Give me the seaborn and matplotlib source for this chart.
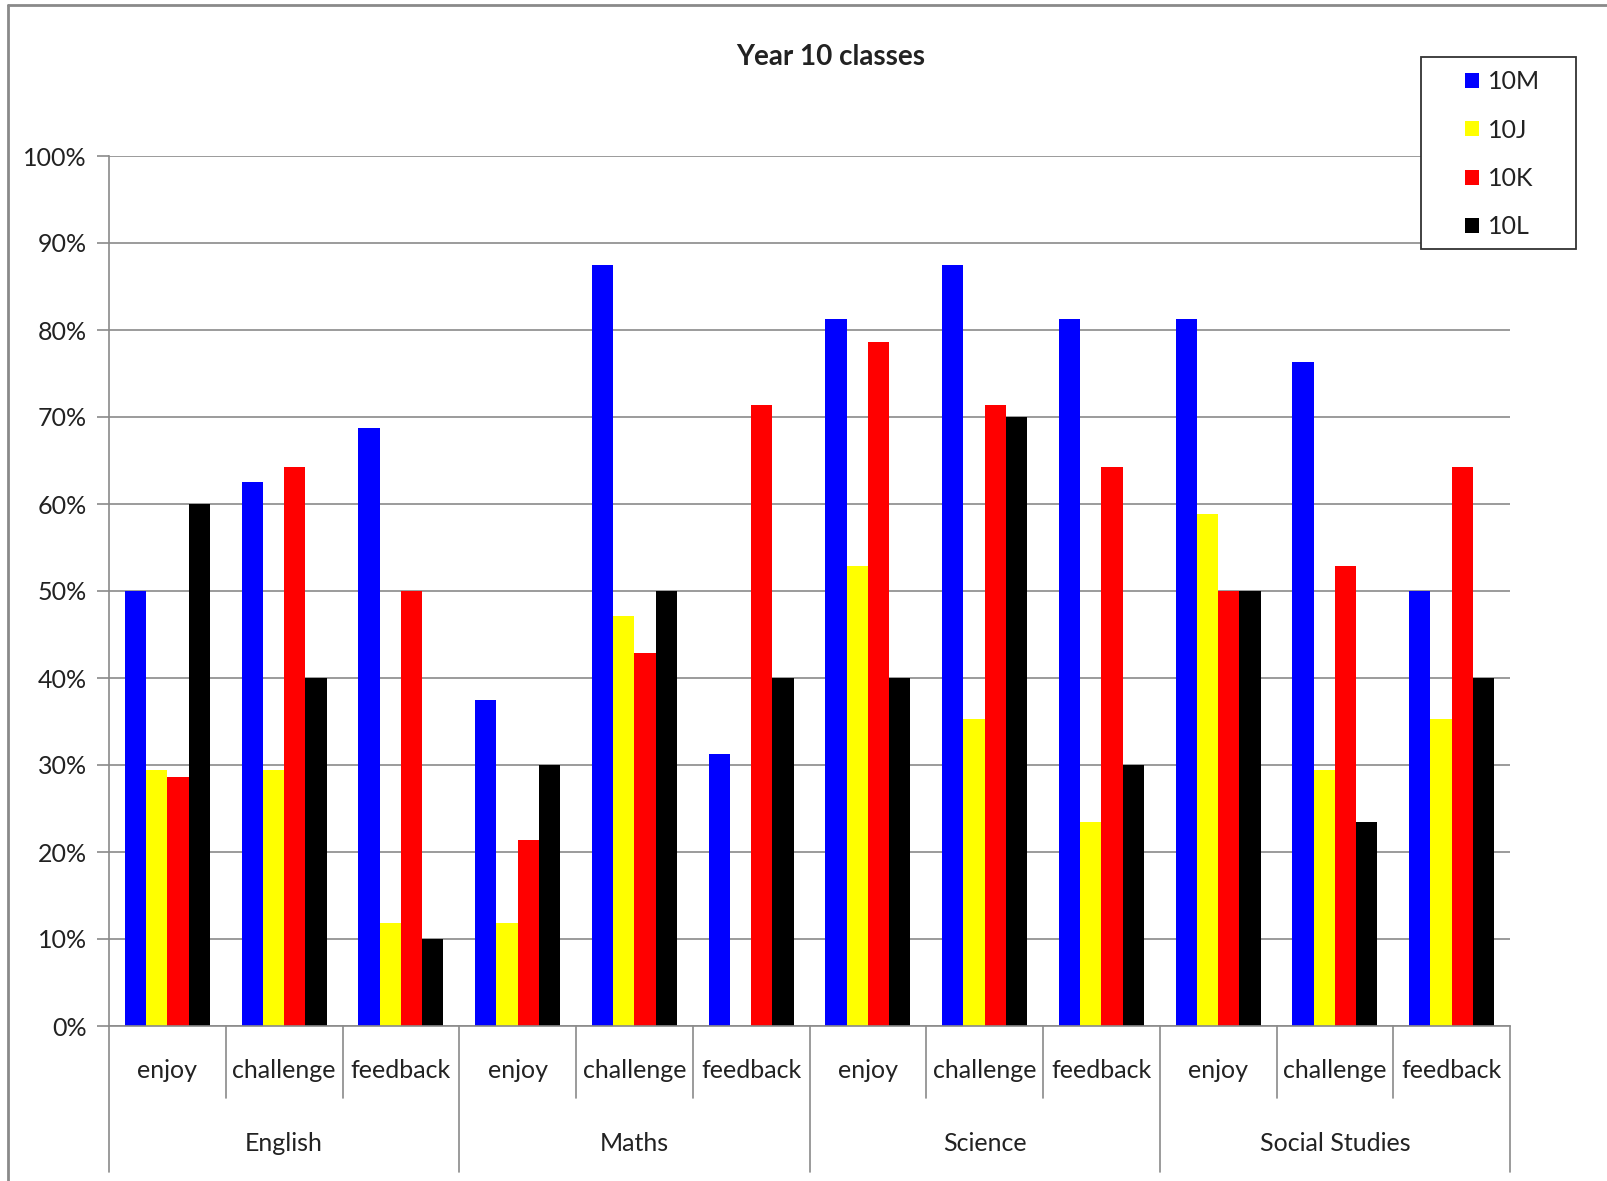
import matplotlib.pyplot as plt
import pandas as pd
import seaborn as sns
from matplotlib.lines import Line2D
from matplotlib.patches import Rectangle
from matplotlib.ticker import PercentFormatter

# Data (fraction of each class)
subjects = ['English', 'Maths', 'Science', 'Social Studies']
aspects = ['enjoy', 'challenge', 'feedback']
classes = ['10M', '10J', '10K', '10L']
colors = ['#0000ff', '#ffff00', '#ff0000', '#000000']

m10 = [0.50, 0.625, 0.6875, 0.375, 0.875, 0.3125, 0.8125, 0.875, 0.8125, 0.8125, 0.763, 0.50]
j10 = [0.294, 0.294, 0.118, 0.118, 0.471, 0.0, 0.529, 0.353, 0.235, 0.588, 0.294, 0.353]
k10 = [0.286, 0.643, 0.50, 0.214, 0.429, 0.714, 0.786, 0.714, 0.643, 0.50, 0.529, 0.643]
l10 = [0.60, 0.40, 0.10, 0.30, 0.50, 0.40, 0.40, 0.70, 0.30, 0.50, 0.235, 0.40]

slots = [s + '|' + a for s in subjects for a in aspects]
rows = []
for cls, vals in zip(classes, [m10, j10, k10, l10]):
    for slot, v in zip(slots, vals):
        rows.append({'slot': slot, 'cls': cls, 'value': v})
df = pd.DataFrame(rows)

sns.set_style('white')
plt.rcParams['font.family'] = ['Lato', 'DejaVu Sans']
txt = '#222222'
grey = '#8a8a8a'

W, H = 1607, 1181
fig = plt.figure(figsize=(W / 100, H / 100), dpi=100)
ax = fig.add_axes([109 / W, 1 - 1026 / H, (1510 - 109) / W, (1026 - 156) / H])

sns.barplot(data=df, x='slot', y='value', hue='cls', order=slots, hue_order=classes,
            palette=colors, saturation=1, width=0.73, errorbar=None, linewidth=0, ax=ax)

ax.set_ylim(0, 1)
ax.set_xlim(-0.5, len(slots) - 0.5)
ax.set_yticks([i / 10 for i in range(11)])
ax.yaxis.set_major_formatter(PercentFormatter(1.0, decimals=0))
ax.grid(axis='y', color=grey, linewidth=1.2)
ax.set_axisbelow(True)
for side in ['top', 'right']:
    ax.spines[side].set_visible(False)
for side in ['left', 'bottom']:
    ax.spines[side].set_color(grey)
    ax.spines[side].set_linewidth(1.2)
ax.tick_params(axis='y', left=True, length=9, width=1.2, color=grey, pad=7,
               labelsize=18, labelcolor=txt)
ax.set_xticks([])
ax.set_xlabel('')
ax.set_ylabel('')

# two-level category axis
tr = ax.get_xaxis_transform()
for i in range(len(slots) + 1):
    x = i - 0.5
    y0 = -0.1678 if i % 3 == 0 else -0.0828
    ax.add_line(Line2D([x, x], [0, y0], transform=tr, color=grey, lw=1.2, clip_on=False))
for i, slot in enumerate(slots):
    ax.text(i, -0.051, slot.split('|')[1], transform=tr, ha='center', va='center',
            fontsize=18, color=txt)
for g, s in enumerate(subjects):
    ax.text(g * 3 + 1, -0.135, s, transform=tr, ha='center', va='center',
            fontsize=18, color=txt)

# legend
handles, labels = ax.get_legend_handles_labels()
ax.get_legend().remove()
fig.add_artist(Rectangle((1421 / W, 1 - 249 / H), 155 / W, 192 / H, transform=fig.transFigure,
                         facecolor='white', edgecolor='#333333', lw=1.3, zorder=4))
fig.legend(handles, labels, loc='upper left', bbox_to_anchor=(1465 / W, 1 - 70 / H),
           frameon=False, fontsize=18, handlelength=0.55, handleheight=0.55,
           handletextpad=0.35, labelspacing=1.02, borderpad=0, borderaxespad=0,
           labelcolor=txt)

fig.text(831 / W, 1 - 57 / H, 'Year 10 classes', ha='center', va='center',
         fontsize=20, fontweight='bold', color=txt)

# outer chart frame (top and left edges visible)
fig.add_artist(Line2D([8 / W, 8 / W], [0, 1 - 5 / H], transform=fig.transFigure, color=grey, lw=2))
fig.add_artist(Line2D([8 / W, 1], [1 - 5 / H, 1 - 5 / H], transform=fig.transFigure, color=grey, lw=2))

fig.savefig('out.png', dpi=100)
